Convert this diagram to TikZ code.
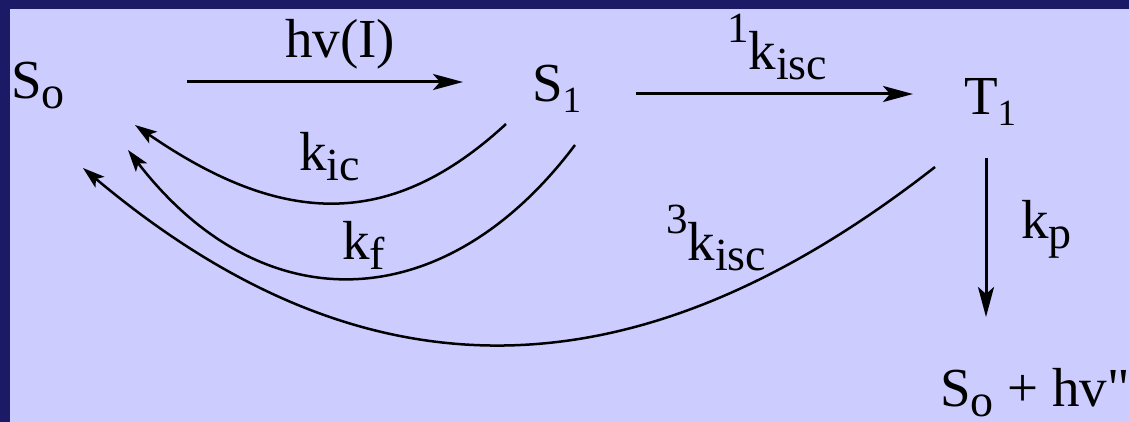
\documentclass[tikz,border=0pt]{standalone}
\usepackage{fontspec}
\setmainfont{Liberation Serif}
\newfontfamily\rawserif{Liberation Serif}
\usetikzlibrary{arrows.meta}
\definecolor{navy}{RGB}{26,26,102}
\definecolor{lav}{RGB}{204,204,255}
\newcommand\lsub[1]{\raisebox{-10pt}{\fontsize{46}{46}\selectfont #1}}
\newcommand\dsub[1]{\raisebox{-11pt}{\fontsize{37}{37}\selectfont #1}}
\newcommand\dsup[1]{\raisebox{27pt}{\fontsize{43}{43}\selectfont #1}}
\tikzset{
  lbl/.style={anchor=base west, inner sep=0pt, outer sep=0pt, font=\fontsize{55}{55}\selectfont},
  sarrow/.style={line width=3pt, -{Stealth[length=30pt,width=16pt,inset=7pt]}},
  carrow/.style={line width=2.5pt, -{Stealth[length=22pt,width=14pt,inset=5pt]}}
}
\begin{document}
\begin{tikzpicture}[x=1pt,y=-1pt]
\useasboundingbox (0,0) rectangle (1129,422);
\fill[navy] (0,0) rectangle (1129,422);
\fill[lav] (10,9) rectangle (1129,422);
% states
\node[lbl] (S0) at (11,99) {S\lsub{o}};
\node[lbl] (S1) at (532,102) {S\dsub{1}};
\node[lbl] (T1) at (964,115) {T\dsub{1}};
\node[lbl] (P) at (940,406) {S\lsub{o} + hv{\rawserif\symbol{34}}};
% labels
\node[lbl] (lhv) at (285,58) {hv(I)};
\node[lbl] (l1k) at (727,70) {\dsup{1}k\lsub{isc}};
\node[lbl] (lic) at (299,171) {k\lsub{ic}};
\node[lbl] (lf) at (342,259) {k\lsub{f}};
\node[lbl] (l3k) at (666,260) {\dsup{3}k\lsub{isc}};
\node[lbl] (lp) at (1021,238) {k\lsub{p}};
% connector ends
\coordinate (a1s) at (187,82);  \coordinate (a1e) at (463,82);
\coordinate (a2s) at (636,94);  \coordinate (a2e) at (913,94);
\coordinate (a3s) at (986,158); \coordinate (a3e) at (986,317);
\coordinate (cis) at (506,124); \coordinate (cie) at (135,125);
\coordinate (cfs) at (575,145); \coordinate (cfe) at (128,150);
\coordinate (cts) at (935,167); \coordinate (cte) at (83,168);
% connectors
\draw[sarrow] (a1s) -- (a1e);
\draw[sarrow] (a2s) -- (a2e);
\draw[sarrow] (a3s) -- (a3e);
\draw[carrow] (cis) .. controls (391,230) and (283,227) .. (cie);
\draw[carrow] (cfs) .. controls (445,318) and (262,324) .. (cfe);
\draw[carrow] (cts) .. controls (642,396) and (371,410) .. (cte);
\end{tikzpicture}
\end{document}
